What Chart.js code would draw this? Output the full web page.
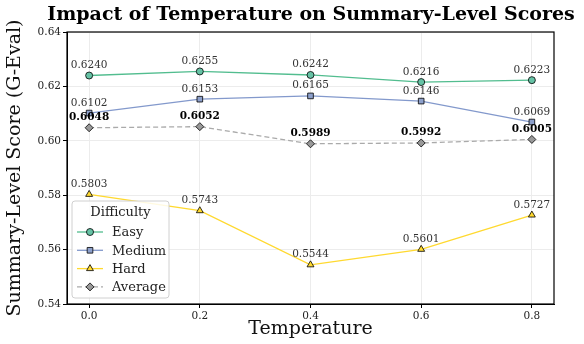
<!DOCTYPE html>
<html>
<head>
<meta charset="utf-8">
<script src="https://cdn.jsdelivr.net/npm/chart.js@4.4.1/dist/chart.umd.min.js"></script>
<style>
  html, body { margin: 0; padding: 0; background: #fff; }
  #wrap { width: 584px; height: 344px; }
</style>
</head>
<body>
<div id="wrap"><canvas id="lineChart" width="584" height="344"></canvas></div>
<script>
const temps = [0.0, 0.2, 0.4, 0.6, 0.8];
const easy = [0.6240, 0.6255, 0.6242, 0.6216, 0.6223];
const medium = [0.6102, 0.6153, 0.6165, 0.6146, 0.6069];
const hard = [0.5803, 0.5743, 0.5544, 0.5601, 0.5727];
const average = [0.6048, 0.6052, 0.5989, 0.5992, 0.6005];
const yTicks = [0.54, 0.56, 0.58, 0.60, 0.62, 0.64];
const xTicks = [0.0, 0.2, 0.4, 0.6, 0.8];

const serif = "'DejaVu Serif', serif";

function pts(vals) {
    return temps.map((t, i) => ({ x: t, y: vals[i] }));
}

const series = [
    { label: 'Easy', data: easy, color: '#52bd8f', fill: '#66c2a5', style: 'circle', dash: [], bold: false },
    { label: 'Medium', data: medium, color: '#8399cc', fill: '#8da0cb', style: 'rect', dash: [], bold: false },
    { label: 'Hard', data: hard, color: '#ffd92f', fill: '#ffd92f', style: 'triangle', dash: [], bold: false },
    { label: 'Average', data: average, color: '#aaaaaa', fill: '#999999', style: 'rectRot', dash: [5, 3], bold: true }
];

// value labels above each point
const valueLabels = {
    id: 'valueLabels',
    afterDatasetsDraw(chart) {
        const ctx = chart.ctx;
        ctx.save();
        ctx.textAlign = 'center';
        ctx.textBaseline = 'bottom';
        chart.data.datasets.forEach((ds, di) => {
            const meta = chart.getDatasetMeta(di);
            const s = series[di];
            ctx.font = (s.bold ? 'bold 10.5px ' : '10.5px ') + serif;
            ctx.fillStyle = s.bold ? '#000' : '#333';
            meta.data.forEach((el, i) => {
                ctx.fillText(s.data[i].toFixed(4), el.x, el.y - 5);
            });
        });
        ctx.restore();
    }
};

// frame, title and legend box
const decor = {
    id: 'decor',
    afterDraw(chart) {
        const ctx = chart.ctx;
        const a = chart.chartArea;
        ctx.save();
        ctx.strokeStyle = '#000';
        ctx.lineWidth = 1.2;
        ctx.strokeRect(a.left, a.top, a.right - a.left, a.bottom - a.top);

        ctx.fillStyle = '#000';
        ctx.font = 'bold 19px ' + serif;
        ctx.textAlign = 'center';
        ctx.textBaseline = 'middle';
        ctx.fillText('Impact of Temperature on Summary-Level Scores', 311, 15);

        // legend
        const lx = 72, ly = 201, lw = 97, lh = 97;
        ctx.beginPath();
        ctx.roundRect(lx, ly, lw, lh, 3);
        ctx.fillStyle = 'rgba(255,255,255,0.85)';
        ctx.fill();
        ctx.strokeStyle = '#d0d0d0';
        ctx.lineWidth = 1;
        ctx.stroke();

        ctx.fillStyle = '#222';
        ctx.font = '13px ' + serif;
        ctx.fillText('Difficulty', lx + lw / 2, 213);

        series.forEach((s, i) => {
            const y = 232 + i * 18.3;
            ctx.beginPath();
            ctx.strokeStyle = s.color;
            ctx.lineWidth = 1.3;
            ctx.setLineDash(s.dash);
            ctx.moveTo(77, y);
            ctx.lineTo(103, y);
            ctx.stroke();
            ctx.setLineDash([]);
            ctx.fillStyle = s.fill;
            ctx.strokeStyle = '#000';
            ctx.lineWidth = 0.8;
            Chart.helpers.drawPoint(ctx, { pointStyle: s.style, radius: s.style === 'circle' ? 3.5 : 4, rotation: 0, borderWidth: 0.8 }, 90, y);
            ctx.fillStyle = '#222';
            ctx.textAlign = 'left';
            ctx.fillText(s.label, 112, y + 1);
            ctx.textAlign = 'center';
        });
        ctx.restore();
    }
};

const ctx = document.getElementById('lineChart').getContext('2d');
new Chart(ctx, {
    type: 'line',
    data: {
        datasets: series.map(s => ({
            label: s.label,
            data: pts(s.data),
            borderColor: s.color,
            backgroundColor: s.fill,
            borderWidth: 1.3,
            borderDash: s.dash,
            pointStyle: s.style,
            pointRadius: s.style === 'circle' ? 3.5 : 4,
            pointBorderColor: '#000',
            pointBorderWidth: 0.8,
            pointBackgroundColor: s.fill,
            tension: 0
        }))
    },
    plugins: [valueLabels, decor],
    options: {
        responsive: false,
        animation: false,
        layout: { padding: { top: 32, right: 30, left: 0, bottom: 0 } },
        plugins: {
            legend: { display: false },
            tooltip: { enabled: false }
        },
        scales: {
            x: {
                type: 'linear',
                min: -0.04,
                max: 0.84,
                afterBuildTicks(scale) { scale.ticks = xTicks.map(v => ({ value: v })); },
                afterFit(scale) { scale.height = 40; },
                ticks: {
                    font: { family: serif, size: 10.5 },
                    color: '#222',
                    padding: 2,
                    callback: v => v.toFixed(1)
                },
                grid: { color: '#ececec', tickColor: '#000', tickLength: 4 },
                border: { color: '#000' },
                title: {
                    display: true,
                    text: 'Temperature',
                    font: { family: serif, size: 19 },
                    color: '#111',
                    padding: { top: 2 }
                }
            },
            y: {
                min: 0.54,
                max: 0.64,
                afterBuildTicks(scale) { scale.ticks = yTicks.map(v => ({ value: v })); },
                afterFit(scale) { scale.width = 67; },
                ticks: {
                    font: { family: serif, size: 10.5 },
                    color: '#222',
                    padding: 2,
                    callback: v => v.toFixed(2)
                },
                grid: { color: '#ececec', tickColor: '#000', tickLength: 4 },
                border: { color: '#000' },
                title: {
                    display: true,
                    text: 'Summary-Level Score (G-Eval)',
                    font: { family: serif, size: 19 },
                    color: '#111',
                    padding: { bottom: 0 }
                }
            }
        }
    }
});
</script>
</body>
</html>
